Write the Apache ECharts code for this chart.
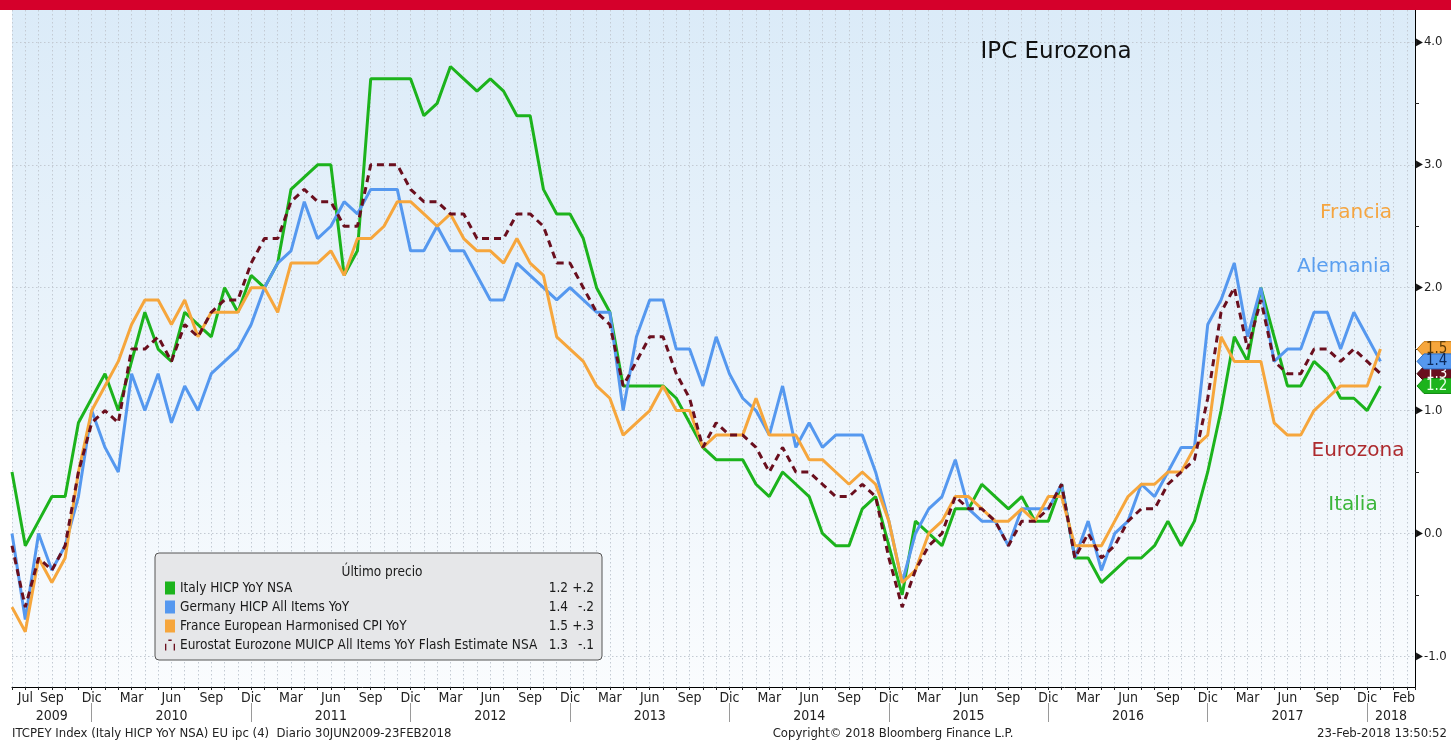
<!DOCTYPE html>
<html>
<head>
<meta charset="utf-8">
<script src="https://cdn.jsdelivr.net/npm/echarts@6/dist/echarts.min.js"></script>
<style>
  html, body { margin: 0; padding: 0; background: #fff; }
  #chart { width: 1451px; height: 742px; }
</style>
</head>
<body>
<div id="chart"></div>
<script>
// monthly points, first one is Jun 2009
const monthNames = ['Ene', 'Feb', 'Mar', 'Abr', 'May', 'Jun', 'Jul', 'Ago', 'Sep', 'Oct', 'Nov', 'Dic'];
const firstMonth = 5;
const yearLabels = ['2009', '2010', '2011', '2012', '2013', '2014', '2015', '2016', '2017', '2018'];

const italy = [
  0.5, -0.1, 0.1, 0.3, 0.3, 0.9, 1.1,
  1.3, 1.0, 1.4, 1.8, 1.5, 1.4, 1.8, 1.7, 1.6, 2.0, 1.8, 2.1,
  2.0, 2.2, 2.8, 2.9, 3.0, 3.0, 2.1, 2.3, 3.7, 3.7, 3.7, 3.7,
  3.4, 3.5, 3.8, 3.7, 3.6, 3.7, 3.6, 3.4, 3.4, 2.8, 2.6, 2.6,
  2.4, 2.0, 1.8, 1.2, 1.2, 1.2, 1.2, 1.1, 0.9, 0.7, 0.6, 0.6,
  0.6, 0.4, 0.3, 0.5, 0.4, 0.3, 0.0, -0.1, -0.1, 0.2, 0.3, -0.1,
  -0.5, 0.1, 0.0, -0.1, 0.2, 0.2, 0.4, 0.3, 0.2, 0.3, 0.1, 0.1,
  0.4, -0.2, -0.2, -0.4, -0.3, -0.2, -0.2, -0.1, 0.1, -0.1, 0.1, 0.5,
  1.0, 1.6, 1.4, 2.0, 1.6, 1.2, 1.2, 1.4, 1.3, 1.1, 1.1, 1.0,
  1.2
];
const germany = [
  0.0, -0.7, 0.0, -0.3, -0.1, 0.3, 1.0,
  0.7, 0.5, 1.3, 1.0, 1.3, 0.9, 1.2, 1.0, 1.3, 1.4, 1.5, 1.7,
  2.0, 2.2, 2.3, 2.7, 2.4, 2.5, 2.7, 2.6, 2.8, 2.8, 2.8, 2.3,
  2.3, 2.5, 2.3, 2.3, 2.1, 1.9, 1.9, 2.2, 2.1, 2.0, 1.9, 2.0,
  1.9, 1.8, 1.8, 1.0, 1.6, 1.9, 1.9, 1.5, 1.5, 1.2, 1.6, 1.3,
  1.1, 1.0, 0.8, 1.2, 0.7, 0.9, 0.7, 0.8, 0.8, 0.8, 0.5, 0.1,
  -0.4, 0.0, 0.2, 0.3, 0.6, 0.2, 0.1, 0.1, -0.1, 0.2, 0.2, 0.2,
  0.4, -0.2, 0.1, -0.3, 0.0, 0.1, 0.4, 0.3, 0.5, 0.7, 0.7, 1.7,
  1.9, 2.2, 1.6, 2.0, 1.4, 1.5, 1.5, 1.8, 1.8, 1.5, 1.8, 1.6,
  1.4
];
const france = [
  -0.6, -0.8, -0.2, -0.4, -0.2, 0.5, 1.0,
  1.2, 1.4, 1.7, 1.9, 1.9, 1.7, 1.9, 1.6, 1.8, 1.8, 1.8, 2.0,
  2.0, 1.8, 2.2, 2.2, 2.2, 2.3, 2.1, 2.4, 2.4, 2.5, 2.7, 2.7,
  2.6, 2.5, 2.6, 2.4, 2.3, 2.3, 2.2, 2.4, 2.2, 2.1, 1.6, 1.5,
  1.4, 1.2, 1.1, 0.8, 0.9, 1.0, 1.2, 1.0, 1.0, 0.7, 0.8, 0.8,
  0.8, 1.1, 0.8, 0.8, 0.8, 0.6, 0.6, 0.5, 0.4, 0.5, 0.4, 0.1,
  -0.4, -0.3, 0.0, 0.1, 0.3, 0.3, 0.2, 0.1, 0.1, 0.2, 0.1, 0.3,
  0.3, -0.1, -0.1, -0.1, 0.1, 0.3, 0.4, 0.4, 0.5, 0.5, 0.7, 0.8,
  1.6, 1.4, 1.4, 1.4, 0.9, 0.8, 0.8, 1.0, 1.1, 1.2, 1.2, 1.2,
  1.5
];
const eurozone = [
  -0.1, -0.6, -0.2, -0.3, -0.1, 0.5, 0.9,
  1.0, 0.9, 1.5, 1.5, 1.6, 1.4, 1.7, 1.6, 1.8, 1.9, 1.9, 2.2,
  2.4, 2.4, 2.7, 2.8, 2.7, 2.7, 2.5, 2.5, 3.0, 3.0, 3.0, 2.8,
  2.7, 2.7, 2.6, 2.6, 2.4, 2.4, 2.4, 2.6, 2.6, 2.5, 2.2, 2.2,
  2.0, 1.8, 1.7, 1.2, 1.4, 1.6, 1.6, 1.3, 1.1, 0.7, 0.9, 0.8,
  0.8, 0.7, 0.5, 0.7, 0.5, 0.5, 0.4, 0.3, 0.3, 0.4, 0.3, -0.2,
  -0.6, -0.3, -0.1, 0.0, 0.3, 0.2, 0.2, 0.1, -0.1, 0.1, 0.1, 0.2,
  0.4, -0.2, 0.0, -0.2, -0.1, 0.1, 0.2, 0.2, 0.4, 0.5, 0.6, 1.1,
  1.8, 2.0, 1.5, 1.9, 1.4, 1.3, 1.3, 1.5, 1.5, 1.4, 1.5, 1.4,
  1.3
];

const seriesNames = [
  'Italy HICP YoY NSA',
  'Germany HICP All Items YoY',
  'France European Harmonised CPI YoY',
  'Eurostat Eurozone MUICP All Items YoY Flash Estimate NSA'
];
const lastValues = ['1.2', '1.4', '1.5', '1.3'];
const changes = ['+.2', '-.2', '+.3', '-.1'];
const shortNames = ['Italia', 'Alemania', 'Francia', 'Eurozona'];
const colors = ['#1cb31c', '#5598ef', '#f6a63c', '#6a0f1e'];

const yTickValues = [-1, 0, 1, 2, 3, 4];
const yMinorValues = [-0.5, 0.5, 1.5, 2.5, 3.5];

const NARROW = "'Liberation Sans Narrow','DejaVu Sans Condensed','Liberation Sans',sans-serif";
const xMax = 105.6;
const yMin = -1.25;
const yMax = 4.26;

const allSeries = [italy, germany, france, eurozone];

// label positions on the month axis: first Jul, then every quarter, Feb at the end
const monthLabelPos = [1];
for (let i = 3; i <= 102; i += 3) monthLabelPos.push(i);
monthLabelPos.push(xMax);

// year separators at each December, year names centred on their span
const yearBounds = [];
for (let i = 6; i < xMax; i += 12) yearBounds.push(i);
const yearEdges = [0].concat(yearBounds, [xMax]);
const yearCenters = yearLabels.map((y, k) => (yearEdges[k] + yearEdges[k + 1]) / 2);

const chart = echarts.init(document.getElementById('chart'));

const dotted = { color: '#c3cad3', width: 1, type: [1.5, 2.5] };
const legendText = { fontFamily: NARROW, fontSize: 13.5, color: '#1a1a1a' };

const option = {
  animation: false,
  backgroundColor: '#fff',
  grid: {
    left: 12, right: 36, top: 10, bottom: 55,
    show: true, borderWidth: 0,
    backgroundColor: new echarts.graphic.LinearGradient(0, 0, 0, 1, [
      { offset: 0, color: '#dbebf8' },
      { offset: 1, color: '#fafcfe' }
    ])
  },
  xAxis: [{
    type: 'value', min: 0, max: xMax, interval: 1, position: 'bottom',
    axisLine: { show: true, onZero: false, lineStyle: { color: '#000', width: 1 } },
    axisTick: { show: true, length: 3, lineStyle: { color: '#222' } },
    axisLabel: {
      customValues: monthLabelPos,
      showMaxLabel: true,
      alignMaxLabel: 'right',
      margin: 4,
      color: '#222', fontSize: 14, fontFamily: NARROW,
      formatter: v => v >= xMax - 0.01 ? 'Feb' : monthNames[(firstMonth + Math.round(v)) % 12]
    },
    splitLine: { show: true, lineStyle: dotted }
  }, {
    type: 'value', min: 0, max: xMax, position: 'bottom', offset: 16,
    axisLine: { show: false, onZero: false },
    axisTick: { show: true, customValues: yearBounds, length: 19, lineStyle: { color: '#9a9a9a' } },
    axisLabel: {
      customValues: yearCenters,
      margin: 6,
      color: '#222', fontSize: 14, fontFamily: NARROW,
      formatter: v => {
        const k = yearCenters.findIndex(c => Math.abs(c - v) < 0.01);
        return k >= 0 ? yearLabels[k] : '';
      }
    },
    splitLine: { show: false }
  }],
  yAxis: [{
    type: 'value', position: 'right', min: yMin, max: yMax,
    axisLine: { show: true, onZero: false, lineStyle: { color: '#000', width: 1 } },
    axisTick: { show: false, customValues: yTickValues },
    axisLabel: {
      customValues: yTickValues,
      margin: 1,
      color: '#222', fontSize: 13, fontFamily: NARROW,
      formatter: v => '{t|\u25B6}' + v.toFixed(1),
      rich: { t: { fontSize: 10, color: '#111', padding: [0, 1, 0, 0] } }
    },
    splitLine: { show: true, lineStyle: dotted }
  }, {
    type: 'value', position: 'right', min: yMin, max: yMax,
    axisLine: { show: false, onZero: false },
    axisTick: { show: true, customValues: yMinorValues, length: 4, lineStyle: { color: '#222' } },
    axisLabel: { show: false },
    splitLine: { show: false }
  }],
  legend: {
    orient: 'vertical', left: 155, top: 553,
    padding: [28, 8, 8, 10],
    itemGap: 5, itemWidth: 10, itemHeight: 13, itemTextGap: 5,
    selectedMode: false,
    backgroundColor: '#e6e7e9', borderColor: '#555', borderWidth: 1, borderRadius: 4,
    data: seriesNames.map((n, k) => ({
      name: n,
      icon: k === 3 ? 'path://M0,5h1.6v8h-1.6z M4,0h4v1.6h-4z M10.4,5h1.6v8h-1.6z' : 'rect',
      itemStyle: { color: colors[k], borderWidth: 0 }
    })),
    formatter: name => {
      const k = seriesNames.indexOf(name);
      return '{n|' + name + '}{v|' + lastValues[k] + '}{c|' + changes[k] + '}';
    },
    textStyle: Object.assign({
      rich: {
        n: Object.assign({ width: 362 }, legendText),
        v: Object.assign({ width: 26, align: 'right' }, legendText),
        c: Object.assign({ width: 26, align: 'right' }, legendText)
      }
    }, legendText)
  },
  series: allSeries.map((vals, k) => ({
    name: seriesNames[k],
    type: 'line',
    xAxisIndex: 0, yAxisIndex: 0,
    data: vals.map((v, i) => [i, v]),
    showSymbol: false,
    color: colors[k],
    lineStyle: { color: colors[k], width: 3, type: k === 3 ? [7, 5] : 'solid' },
    z: 2 + k
  }))
};

chart.setOption(option);

// value tags on the right axis, placed through the y scale
const tagTextColors = ['#eaffea', '#0d2a5c', '#5b3a05', '#ffffff'];
const tagBorders = ['#128a12', '#2d6fc4', '#c97c12', '#3a0008'];
const tagX = chart.convertToPixel({ xAxisIndex: 0 }, xMax) + 2;
const tagOrder = [2, 3, 1, 0];
const tags = [];
tagOrder.forEach((k, n) => {
  const y = chart.convertToPixel({ yAxisIndex: 0 }, parseFloat(lastValues[k]));
  tags.push({
    type: 'polygon', z: 20 + n * 2,
    shape: { points: [[tagX, y], [tagX + 7, y - 7.5], [1460, y - 7.5], [1460, y + 7.5], [tagX + 7, y + 7.5]] },
    style: { fill: colors[k], stroke: tagBorders[k], lineWidth: 1 }
  });
  tags.push({
    type: 'text', z: 21 + n * 2, x: tagX + 9, y: y,
    style: { text: lastValues[k], fill: tagTextColors[k], font: '15px ' + NARROW, textVerticalAlign: 'middle' }
  });
});

const annot = [
  { k: 2, x: 1356, y: 213 },
  { k: 1, x: 1344, y: 267 },
  { k: 3, x: 1358, y: 451 },
  { k: 0, x: 1353, y: 505 }
];
const annotColors = ['#3ab53a', '#5a9ff0', '#f5a540', '#ad2a2e'];

chart.setOption({
  graphic: [
    { type: 'rect', z: 50, shape: { x: 0, y: 0, width: 1451, height: 10 }, style: { fill: '#d5002b' } },
    { type: 'text', z: 50, x: 1056, y: 52, style: { text: 'IPC Eurozona', fill: '#111', font: '23px "DejaVu Sans"', textAlign: 'center', textVerticalAlign: 'middle' } },
    { type: 'text', z: 50, x: 382, y: 572, style: { text: 'Último precio', fill: '#1a1a1a', font: '13.5px ' + NARROW, textAlign: 'center', textVerticalAlign: 'middle' } }
  ].concat(annot.map(a => ({
    type: 'text', z: 50, x: a.x, y: a.y,
    style: { text: shortNames[a.k], fill: annotColors[a.k], font: '20px "DejaVu Sans"', textAlign: 'center', textVerticalAlign: 'middle' }
  }))).concat([
    { type: 'text', z: 50, x: 12, y: 734, style: { text: 'ITCPEY Index (Italy HICP YoY NSA) EU ipc (4)  Diario 30JUN2009-23FEB2018', fill: '#222', font: '13px ' + NARROW, textVerticalAlign: 'middle' } },
    { type: 'text', z: 50, x: 893, y: 734, style: { text: 'Copyright\u00A9 2018 Bloomberg Finance L.P.', fill: '#222', font: '13px ' + NARROW, textAlign: 'center', textVerticalAlign: 'middle' } },
    { type: 'text', z: 50, x: 1447, y: 734, style: { text: '23-Feb-2018 13:50:52', fill: '#222', font: '13px ' + NARROW, textAlign: 'right', textVerticalAlign: 'middle' } }
  ]).concat(tags)
});
</script>
</body>
</html>
